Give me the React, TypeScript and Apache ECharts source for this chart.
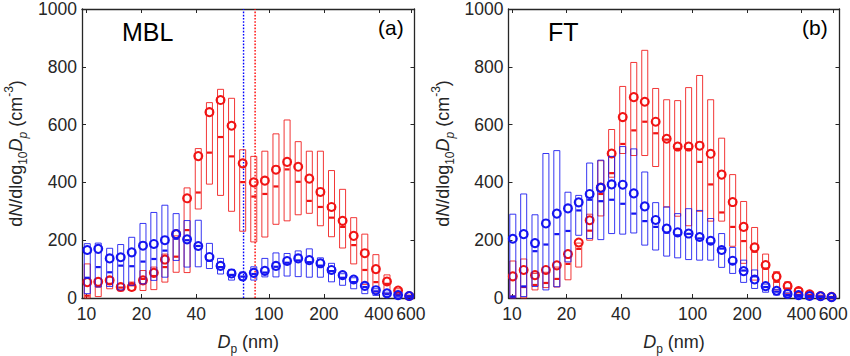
import React, { useEffect, useRef } from 'react';
import * as echarts from 'echarts';

// Bin centre diameters (nm)
const binDiameters = [10.1, 11.6, 13.4, 15.4, 17.7, 20.4, 23.4, 26.9, 31.0, 35.6, 41.0, 47.2, 54.3, 62.4, 71.8, 82.6, 95.0, 109.3, 125.8, 144.7, 166.5, 191.5, 220.3, 253.4, 291.5, 335.4, 385.8, 443.8, 510.6, 587.4];

// Panel (a) MBL - red
const mblRedLow = [0, 5, 32, 24, 26, 26, 29, 55, 89, 88, 308, 394, 355, 300, 231, 194, 211, 255, 267, 288, 293, 250, 212, 173, 118, 47, 21, 15, 10, 2];
const mblRedHigh = [118, 68, 72, 49, 55, 95, 107, 152, 215, 381, 517, 676, 722, 691, 513, 490, 508, 568, 616, 541, 508, 508, 441, 376, 278, 221, 150, 80, 32, 10];
const mblRedMedian = [8, 40, 49, 36, 44, 66, 76, 107, 143, 235, 365, 503, 557, 490, 401, 351, 360, 386, 445, 402, 336, 315, 278, 246, 183, 97, 55, 49, 21, 5];
const mblRedMean = [55, 56, 61, 38, 38, 61, 87, 133, 221, 345, 491, 643, 685, 596, 466, 400, 406, 444, 471, 454, 413, 367, 315, 267, 215, 155, 100, 57, 26, 7];

// Panel (a) MBL - blue
const mblBlueLow = [15, 38, 40, 28, 44, 49, 61, 72, 130, 107, 108, 102, 83, 62, 62, 62, 73, 73, 76, 74, 72, 72, 56, 44, 32, 15, 9, 5, 3, 1];
const mblBlueHigh = [188, 190, 172, 185, 210, 258, 296, 321, 292, 268, 269, 189, 137, 99, 90, 108, 137, 156, 154, 163, 170, 139, 120, 84, 70, 52, 32, 20, 14, 9];
const mblBlueMedian = [70, 107, 89, 112, 110, 126, 135, 164, 205, 200, 180, 129, 107, 80, 74, 83, 88, 108, 122, 130, 124, 112, 93, 70, 55, 38, 23, 13, 8, 5];
const mblBlueMean = [166, 170, 137, 141, 158, 181, 187, 200, 221, 203, 180, 142, 111, 85, 75, 87, 94, 111, 128, 137, 131, 120, 97, 79, 64, 42, 27, 16, 10, 7];

// Panel (b) FT - red
const ftRedLow = [0, 0, 28, 36, 38, 63, 107, 200, 284, 418, 500, 493, 493, 455, 315, 283, 250, 300, 266, 266, 179, 120, 62, 53, 28, 16, 10, 4, 2, 1];
const ftRedHigh = [128, 135, 85, 89, 107, 140, 190, 290, 475, 583, 732, 815, 857, 725, 686, 683, 728, 770, 686, 553, 427, 334, 244, 152, 91, 56, 33, 18, 10, 6];
const ftRedMedian = [5, 38, 45, 52, 66, 118, 170, 233, 360, 432, 533, 580, 610, 570, 548, 516, 515, 471, 393, 296, 246, 197, 160, 102, 56, 33, 20, 10, 5, 3];
const ftRedMean = [75, 97, 79, 97, 113, 152, 192, 269, 382, 500, 626, 695, 679, 610, 551, 524, 524, 527, 499, 427, 332, 246, 175, 114, 74, 41, 24, 13, 7, 4];

// Panel (b) FT - blue
const ftBlueLow = [0, 5, 40, 28, 39, 125, 217, 206, 202, 223, 221, 225, 183, 166, 145, 139, 133, 131, 131, 106, 85, 54, 33, 20, 10, 4, 2, 1, 1, 0];
const ftBlueHigh = [290, 360, 288, 500, 510, 366, 355, 467, 477, 490, 524, 516, 436, 330, 315, 292, 309, 303, 275, 223, 175, 131, 97, 48, 30, 18, 12, 9, 7, 5];
const ftBlueMedian = [5, 40, 162, 185, 221, 232, 303, 340, 335, 340, 326, 292, 266, 246, 226, 217, 222, 206, 189, 171, 118, 95, 75, 38, 22, 10, 7, 5, 4, 2];
const ftBlueMean = [205, 221, 190, 258, 292, 310, 331, 360, 381, 393, 392, 362, 317, 270, 240, 227, 223, 211, 198, 166, 129, 93, 64, 41, 25, 14, 10, 7, 6, 3];

// Axis ticks and ranges
const xTickValues = [10, 20, 40, 100, 200, 400, 600];
const panelARange = [9.45, 628];
const panelBRange = [9.56, 650];
const yRange = [0, 1000];
const yInterval = 200;

// Dotted reference diameters in panel (a)
const mblBlueLine = 72.6;
const mblRedLine = 84.0;

const FONT = '"Liberation Sans", Arial, sans-serif';
const AXIS_COLOR = '#262626';
const RED = '#f01414';
const BLUE = '#1414f0';

const lg = (v: number) => Math.log10(v);

const makeBoxData = (lows: number[], highs: number[], meds: number[], means: number[]) =>
  binDiameters.map((d, i) => [lg(d), lows[i], highs[i], meds[i], means[i]]);

const renderBox = (color: string) => (params: any, api: any) => {
  const x = api.value(0);
  const pLow = api.coord([x, api.value(1)]);
  const pHigh = api.coord([x, api.value(2)]);
  const pMed = api.coord([x, api.value(3)]);
  const pMean = api.coord([x, api.value(4)]);
  const w = 6;
  const dw = 5;
  return {
    type: 'group',
    children: [
      {
        type: 'rect',
        shape: { x: pLow[0] - w / 2, y: pHigh[1], width: w, height: Math.max(pLow[1] - pHigh[1], 0.5) },
        style: { fill: 'none', stroke: color, lineWidth: 1, opacity: 0.85 },
      },
      {
        type: 'line',
        shape: { x1: pMed[0] - dw / 2, y1: pMed[1], x2: pMed[0] + dw / 2, y2: pMed[1] },
        style: { stroke: color, lineWidth: 2.2 },
      },
      {
        type: 'circle',
        shape: { cx: pMean[0], cy: pMean[1], r: 4 },
        style: { fill: 'none', stroke: color, lineWidth: 2 },
      },
    ],
  };
};

const nameRich = {
  t: { fontSize: 18, lineHeight: 26, fontFamily: FONT, color: AXIS_COLOR },
  it: { fontSize: 18, lineHeight: 26, fontFamily: FONT, color: AXIS_COLOR, fontStyle: 'italic' },
  sub: { fontSize: 12, lineHeight: 12, fontFamily: FONT, color: AXIS_COLOR, verticalAlign: 'bottom' },
  isub: { fontSize: 12, lineHeight: 12, fontFamily: FONT, color: AXIS_COLOR, verticalAlign: 'bottom', fontStyle: 'italic' },
  sup: { fontSize: 12, lineHeight: 12, fontFamily: FONT, color: AXIS_COLOR, verticalAlign: 'top' },
};

const yName = '{t|d}{it|N}{t|/dlog}{sub|10}{it|D}{isub|p}{t| (cm}{sup|-3}{t|)}';
const xName = '{it|D}{sub|p}{t| (nm)}';

export default function App() {
  const ref = useRef<HTMLDivElement>(null);

  useEffect(() => {
    if (!ref.current) return;
    const chart = echarts.init(ref.current, undefined, { renderer: 'svg' });
    const xTicks = xTickValues.map(lg);

    const grids = [
      { left: 82, top: 9, width: 332.5, height: 289 },
      { left: 508.5, top: 9, width: 331, height: 289 },
    ];
    const ranges = [panelARange, panelBRange];

    const xAxes: any[] = [];
    const yAxes: any[] = [];
    [0, 1].forEach((g) => {
      const base = {
        gridIndex: g,
        type: 'value',
        min: lg(ranges[g][0]),
        max: lg(ranges[g][1]),
        splitLine: { show: false },
        axisLine: { show: true, onZero: false, lineStyle: { color: AXIS_COLOR, width: 1.3 } },
        axisTick: { show: true, inside: true, length: 4, customValues: xTicks, lineStyle: { color: AXIS_COLOR, width: 1 } },
      };
      xAxes.push({
        ...base,
        position: 'bottom',
        axisLabel: {
          customValues: xTicks,
          formatter: (v: number) => String(Math.round(Math.pow(10, v))),
          fontSize: 17.5,
          fontFamily: FONT,
          color: AXIS_COLOR,
          margin: 7,
          hideOverlap: false,
        },
        name: xName,
        nameLocation: 'middle',
        nameGap: 31,
        nameMoveOverlap: false,
        nameTextStyle: { rich: nameRich },
      });
      xAxes.push({ ...base, position: 'top', axisLabel: { show: false } });

      const ybase = {
        gridIndex: g,
        type: 'value',
        min: yRange[0],
        max: yRange[1],
        interval: yInterval,
        splitLine: { show: false },
        axisLine: { show: true, onZero: false, lineStyle: { color: AXIS_COLOR, width: 1.3 } },
        axisTick: { show: true, inside: true, length: 4, lineStyle: { color: AXIS_COLOR, width: 1 } },
      };
      yAxes.push({
        ...ybase,
        position: 'left',
        axisLabel: {
          fontSize: 17.5,
          lineHeight: 15,
          fontFamily: FONT,
          color: AXIS_COLOR,
          margin: 5,
          formatter: (v: number) => String(v),
        },
        name: yName,
        nameLocation: 'middle',
        nameRotate: 90,
        nameGap: 53,
        nameMoveOverlap: false,
        nameTextStyle: { rich: nameRich },
      });
      yAxes.push({ ...ybase, position: 'right', axisLabel: { show: false } });
    });

    const boxSeries = (xi: number, yi: number, color: string, data: any[]) => ({
      type: 'custom',
      xAxisIndex: xi,
      yAxisIndex: yi,
      renderItem: renderBox(color),
      data,
      encode: { x: 0, y: [1, 2, 3, 4] },
      silent: true,
    });

    const vline = (value: number, color: string) => ({
      type: 'line',
      xAxisIndex: 0,
      yAxisIndex: 0,
      data: [[lg(value), yRange[0]], [lg(value), yRange[1]]],
      symbol: 'none',
      showSymbol: false,
      silent: true,
      lineStyle: { color, width: 1.4, type: [1.6, 1.6] },
      z: 1,
    });

    chart.setOption({
      animation: false,
      backgroundColor: '#ffffff',
      grid: grids.map((g) => ({ ...g, containLabel: false, outerBoundsMode: 'none' })),
      xAxis: xAxes,
      yAxis: yAxes,
      series: [
        vline(mblBlueLine, '#0000ff'),
        vline(mblRedLine, '#ff0000'),
        boxSeries(0, 0, RED, makeBoxData(mblRedLow, mblRedHigh, mblRedMedian, mblRedMean)),
        boxSeries(0, 0, BLUE, makeBoxData(mblBlueLow, mblBlueHigh, mblBlueMedian, mblBlueMean)),
        boxSeries(2, 2, RED, makeBoxData(ftRedLow, ftRedHigh, ftRedMedian, ftRedMean)),
        boxSeries(2, 2, BLUE, makeBoxData(ftBlueLow, ftBlueHigh, ftBlueMedian, ftBlueMean)),
      ],
      graphic: [
        { type: 'text', left: 122, top: 19, style: { text: 'MBL', fontSize: 25, fontFamily: FONT, fill: '#000' } },
        { type: 'text', left: 378, top: 17, style: { text: '(a)', fontSize: 21, fontFamily: FONT, fill: '#000' } },
        { type: 'text', left: 548, top: 19, style: { text: 'FT', fontSize: 25, fontFamily: FONT, fill: '#000' } },
        { type: 'text', left: 802, top: 17, style: { text: '(b)', fontSize: 21, fontFamily: FONT, fill: '#000' } },
      ],
    });

    return () => chart.dispose();
  }, []);

  return (
    <div
      ref={ref}
      style={{ position: 'fixed', left: 0, top: 0, width: 850, height: 356, background: '#fff' }}
    />
  );
}
